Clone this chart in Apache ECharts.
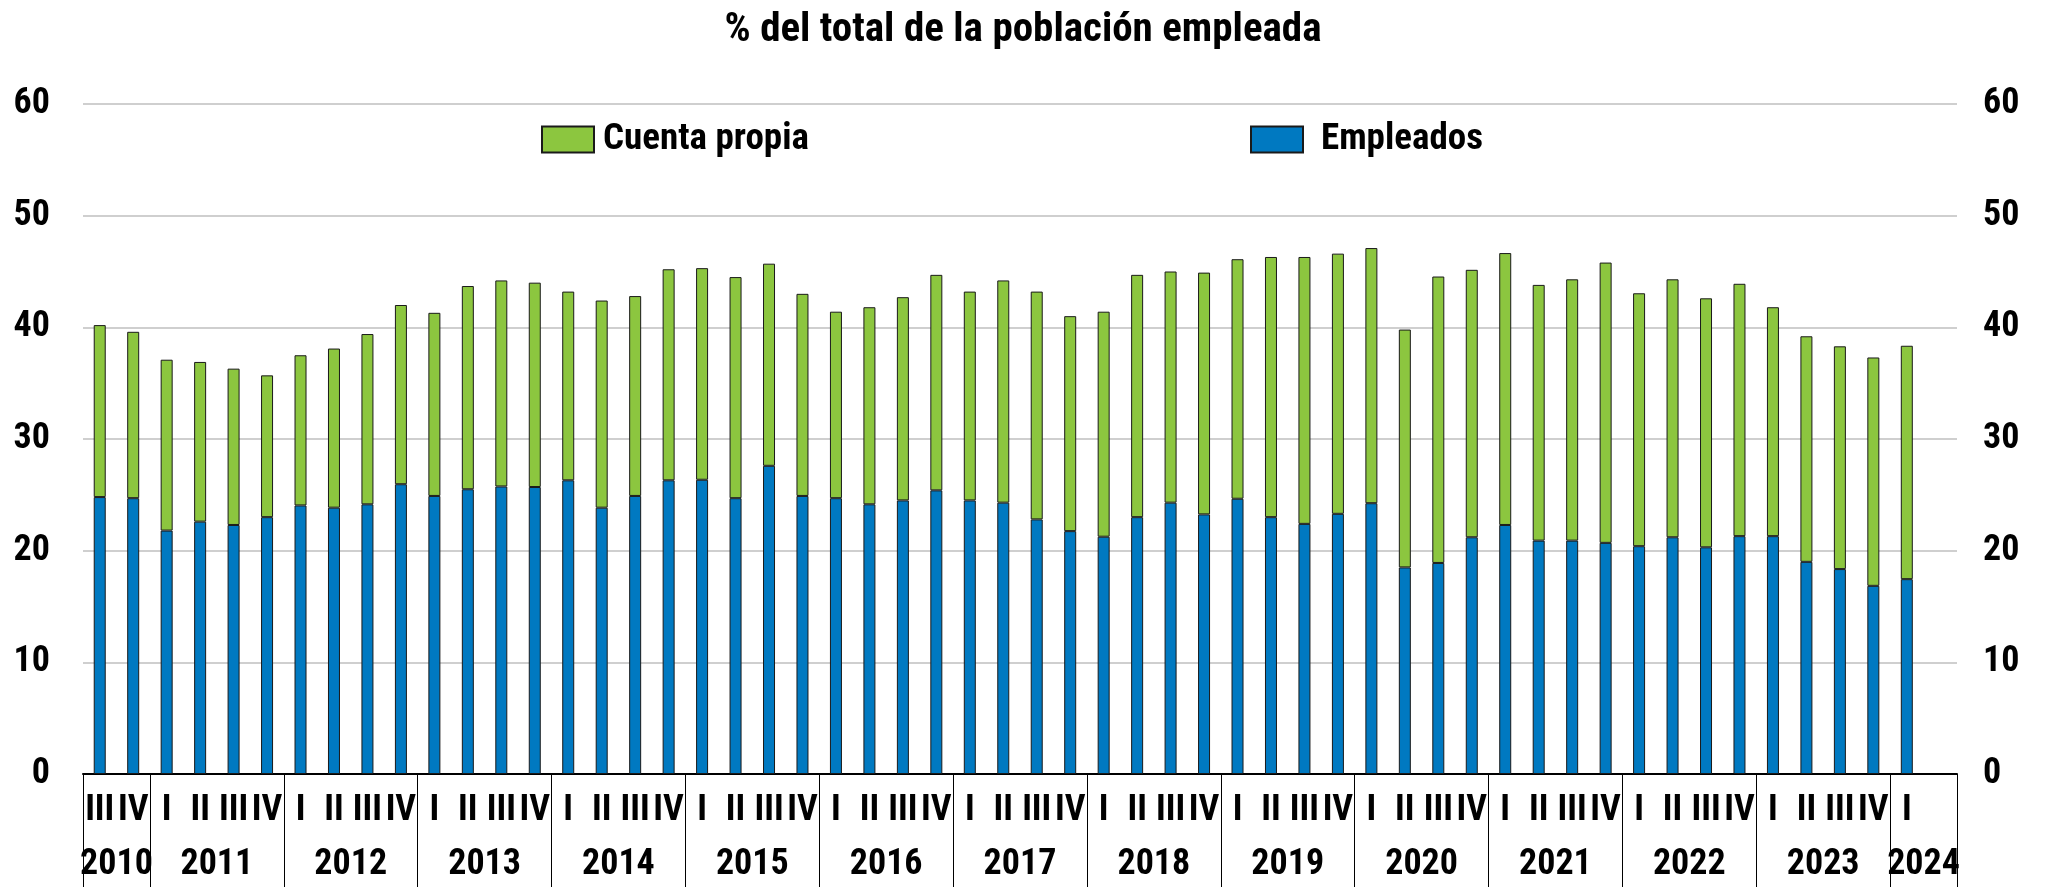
<!DOCTYPE html>
<html>
<head>
<meta charset="utf-8">
<script src="https://cdn.jsdelivr.net/npm/echarts@6/dist/echarts.min.js"></script>
<style>
  html, body { margin: 0; padding: 0; background: #fff; }
  #chart { width: 2046px; height: 887px; }
</style>
</head>
<body>
<div id="chart"></div>
<script>
// trimestres (el último hueco queda vacío, como en el original)
const quarters = ['III', 'IV',
  'I', 'II', 'III', 'IV', 'I', 'II', 'III', 'IV', 'I', 'II', 'III', 'IV',
  'I', 'II', 'III', 'IV', 'I', 'II', 'III', 'IV', 'I', 'II', 'III', 'IV',
  'I', 'II', 'III', 'IV', 'I', 'II', 'III', 'IV', 'I', 'II', 'III', 'IV',
  'I', 'II', 'III', 'IV', 'I', 'II', 'III', 'IV', 'I', 'II', 'III', 'IV',
  'I', 'II', 'III', 'IV', 'I', ''];
const years = ['2010', '2011', '2012', '2013', '2014', '2015', '2016', '2017',
  '2018', '2019', '2020', '2021', '2022', '2023', '2024'];
// nº de huecos de cada año en el eje
const yearSpans = [2, 4, 4, 4, 4, 4, 4, 4, 4, 4, 4, 4, 4, 4, 2];

const empleados = [24.8, 24.7, 21.8, 22.6, 22.3, 23.0, 24.05, 23.85, 24.15, 25.95,
  24.9, 25.5, 25.75, 25.7, 26.3, 23.85, 24.9, 26.3, 26.35, 24.7,
  27.6, 24.9, 24.7, 24.15, 24.5, 25.4, 24.5, 24.3, 22.8, 21.75,
  21.25, 23.0, 24.3, 23.25, 24.65, 23.0, 22.4, 23.3, 24.25, 18.5,
  18.9, 21.2, 22.3, 20.9, 20.9, 20.7, 20.4, 21.2, 20.3, 21.3,
  21.3, 19.0, 18.35, 16.85, 17.45];
const cuentaPropia = [15.4, 14.9, 15.3, 14.3, 14.0, 12.7, 13.45, 14.25, 15.25, 16.05,
  16.4, 18.2, 18.45, 18.3, 16.9, 18.55, 17.9, 18.9, 18.95, 19.8,
  18.1, 18.1, 16.7, 17.65, 18.2, 19.3, 18.7, 19.9, 20.4, 19.25,
  20.15, 21.7, 20.7, 21.65, 21.45, 23.3, 23.9, 23.3, 22.85, 21.3,
  25.65, 23.95, 24.35, 22.9, 23.4, 25.1, 22.65, 23.1, 22.3, 22.6,
  20.5, 20.2, 19.95, 20.45, 20.9];

// Roboto variable en ancho condensado (parecido a Arial Narrow Bold)
const txt = { fontFamily: 'Roboto', fontWeight: 'bold condensed', fontSize: 36, color: '#000' };
const withSize = (size, extra) => Object.assign({}, txt, { fontSize: size }, extra || {});

// eje de años: puntos en los límites de los trimestres (0..56)
const yearAxis = new Array(quarters.length + 1).fill('');
const yearBounds = { 0: true };
let pos = 0;
years.forEach((y, i) => {
  yearAxis[pos + yearSpans[i] / 2] = y;
  pos += yearSpans[i];
  yearBounds[pos] = true;
});

const legendBase = { top: 121, padding: 0, icon: 'rect', itemWidth: 52, itemHeight: 26 };

const chart = echarts.init(document.getElementById('chart'));
chart.setOption({
  animation: false,
  title: {
    text: '% del total de la población empleada',
    left: 'center', top: 5,
    textStyle: withSize(41)
  },
  legend: [
    Object.assign({ data: ['Cuenta propia'], left: 541, textStyle: withSize(37, { padding: [0, 0, 0, 4] }) }, legendBase),
    Object.assign({ data: ['Empleados'], left: 1250, textStyle: withSize(37, { padding: [0, 0, 0, 13] }) }, legendBase)
  ],
  grid: { left: 83, right: 89, top: 104, bottom: 113, containLabel: false, outerBoundsMode: 'none' },
  xAxis: [
    {
      type: 'category', data: quarters, position: 'bottom',
      axisLine: { lineStyle: { color: '#000', width: 2 } },
      axisTick: { length: 57, interval: 0, lineStyle: { color: '#000', width: 1 } },
      axisLabel: Object.assign({ interval: 0, margin: 19 }, txt)
    },
    {
      type: 'category', data: quarters, position: 'bottom',
      axisLine: { show: false },
      axisTick: { inside: true, length: 11, interval: 0, lineStyle: { color: '#000', width: 1 } },
      axisLabel: { show: false }
    },
    {
      type: 'category', data: yearAxis, position: 'bottom', boundaryGap: false,
      axisLine: { show: false },
      axisTick: { length: 130, interval: (i) => !!yearBounds[i], lineStyle: { color: '#000', width: 1 } },
      axisLabel: Object.assign({ interval: 0, margin: 73 }, txt)
    }
  ],
  yAxis: [
    {
      type: 'value', min: 0, max: 60, interval: 10,
      axisLine: { show: false }, axisTick: { show: false },
      axisLabel: Object.assign({ margin: 33 }, txt),
      splitLine: { lineStyle: { color: '#cfcfcf', width: 2 } }
    },
    {
      type: 'value', min: 0, max: 60, interval: 10, position: 'right',
      axisLine: { show: false }, axisTick: { show: false },
      axisLabel: Object.assign({ margin: 26 }, txt),
      splitLine: { show: false }
    }
  ],
  series: [
    {
      name: 'Empleados', type: 'bar', stack: 'total', data: empleados, barWidth: 12,
      itemStyle: { color: '#0079C1', borderColor: '#1a1a1a', borderWidth: 1 }
    },
    {
      name: 'Cuenta propia', type: 'bar', stack: 'total', data: cuentaPropia, barWidth: 12,
      itemStyle: { color: '#8CC63F', borderColor: '#1a1a1a', borderWidth: 1 }
    }
  ]
});
</script>
</body>
</html>
